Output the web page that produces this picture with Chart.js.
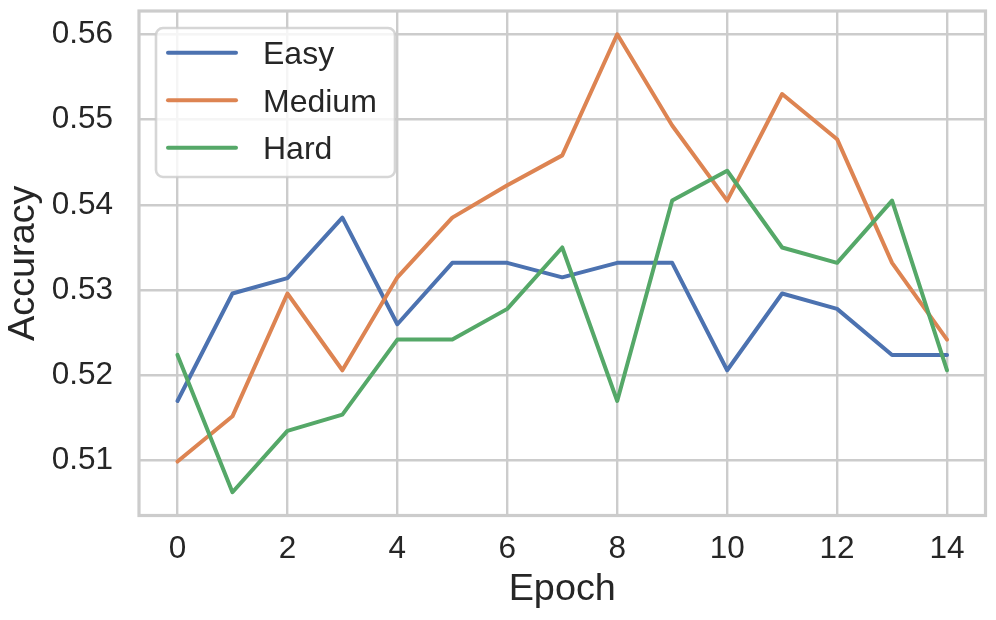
<!DOCTYPE html>
<html>
<head>
<meta charset="utf-8">
<script src="https://cdn.jsdelivr.net/npm/chart.js@4.4.1/dist/chart.umd.min.js"></script>
<style>
  html, body { margin: 0; padding: 0; background: #ffffff; }
  #wrap { width: 996px; height: 620px; position: relative; }
</style>
</head>
<body>
<div id="wrap"><canvas id="c" width="996" height="620"></canvas></div>
<script>
// ---- data ----
const epochs = [0, 1, 2, 3, 4, 5, 6, 7, 8, 9, 10, 11, 12, 13, 14];
const seriesNames = ["Easy", "Medium", "Hard"];
const easy   = [0.5170, 0.5296, 0.5314, 0.5385, 0.5260, 0.5332, 0.5332, 0.5315, 0.5332, 0.5332, 0.5206, 0.5296, 0.5278, 0.5224, 0.5224];
const medium = [0.5099, 0.5152, 0.5296, 0.5206, 0.5315, 0.5385, 0.5423, 0.5458, 0.5600, 0.5493, 0.5405, 0.5530, 0.5477, 0.5332, 0.5242];
const hard   = [0.5224, 0.5063, 0.5135, 0.5154, 0.5242, 0.5242, 0.5278, 0.5350, 0.5170, 0.5405, 0.5440, 0.5350, 0.5332, 0.5405, 0.5206];
const xTickValues = [0, 2, 4, 6, 8, 10, 12, 14];
const yTickValues = [0.51, 0.52, 0.53, 0.54, 0.55, 0.56];
const yTickLabels = ["0.51", "0.52", "0.53", "0.54", "0.55", "0.56"];
const xTitle = "Epoch";
const yTitle = "Accuracy";

// ---- style ----
const colors = ["#4c72b0", "#dd8452", "#55a868"];
const textColor = "#262626";
const gridColor = "#cccccc";
const fontFamily = "'Liberation Sans', Arial, Helvetica, sans-serif";

function toPoints(arr) { return epochs.map((e, i) => ({ x: e, y: arr[i] })); }
const seriesData = [easy, medium, hard];

const datasets = seriesNames.map((name, i) => ({
  label: name,
  data: toPoints(seriesData[i]),
  borderColor: colors[i],
  backgroundColor: colors[i],
  borderWidth: 4,
  borderCapStyle: "round",
  borderJoinStyle: "round",
  pointRadius: 0,
  pointHoverRadius: 0,
  tension: 0,
  fill: false,
  order: seriesNames.length - 1 - i
}));

const framePlugin = {
  id: "frame",
  beforeDatasetsDraw(chart) {
    const { ctx, chartArea: a } = chart;
    ctx.save();
    ctx.strokeStyle = gridColor;
    ctx.lineWidth = 3.2;
    ctx.strokeRect(a.left, a.top, a.right - a.left, a.bottom - a.top);
    ctx.restore();
  }
};

const legendPlugin = {
  id: "customLegend",
  afterDraw(chart) {
    const ctx = chart.ctx;
    const bx = 156, by = 28, bw = 239, bh = 149, r = 7;
    ctx.save();
    ctx.beginPath();
    ctx.moveTo(bx + r, by);
    ctx.arcTo(bx + bw, by, bx + bw, by + bh, r);
    ctx.arcTo(bx + bw, by + bh, bx, by + bh, r);
    ctx.arcTo(bx, by + bh, bx, by, r);
    ctx.arcTo(bx, by, bx + bw, by, r);
    ctx.closePath();
    ctx.fillStyle = "rgba(255,255,255,0.8)";
    ctx.fill();
    ctx.strokeStyle = "rgba(204,204,204,0.8)";
    ctx.lineWidth = 2.6;
    ctx.stroke();
    const rows = [52.7, 100.2, 147.7];
    const fs = 32;
    ctx.font = fs + "px " + fontFamily;
    ctx.textBaseline = "alphabetic";
    ctx.textAlign = "left";
    chart.data.datasets.forEach((ds, i) => {
      const y = rows[i];
      ctx.beginPath();
      ctx.moveTo(168, y);
      ctx.lineTo(236, y);
      ctx.strokeStyle = ds.borderColor;
      ctx.lineWidth = 4;
      ctx.lineCap = "round";
      ctx.stroke();
      ctx.fillStyle = textColor;
      ctx.fillText(ds.label, 263, y + 0.358 * fs);
    });
    ctx.restore();
  }
};

new Chart(document.getElementById("c"), {
  type: "line",
  data: { datasets },
  options: {
    responsive: false,
    animation: false,
    devicePixelRatio: 1,
    layout: { padding: { top: 11, right: 10.5, left: 0, bottom: 0 } },
    plugins: {
      legend: { display: false },
      tooltip: { enabled: false }
    },
    scales: {
      x: {
        type: "linear",
        min: -0.7,
        max: 14.7,
        afterBuildTicks(scale) { scale.ticks = xTickValues.map(v => ({ value: v })); },
        afterFit(scale) { scale.height = 104.5; scale.paddingLeft = 0; scale.paddingRight = 0; },
        ticks: {
          color: textColor,
          font: { family: fontFamily, size: 31.5 },
          padding: 15,
          maxRotation: 0,
          autoSkip: false,
          callback: (v) => String(v)
        },
        grid: { color: gridColor, lineWidth: 2.4, drawTicks: false },
        border: { display: false },
        title: {
          display: true,
          text: xTitle,
          color: textColor,
          font: { family: fontFamily, size: 37.8 },
          padding: { top: 0, bottom: 8 }
        }
      },
      y: {
        type: "linear",
        min: 0.50357,
        max: 0.56273,
        afterBuildTicks(scale) { scale.ticks = yTickValues.map(v => ({ value: v })); },
        afterFit(scale) { scale.width = 139; scale.paddingTop = 0; scale.paddingBottom = 0; },
        ticks: {
          color: textColor,
          font: { family: fontFamily, size: 31.5 },
          padding: 26,
          autoSkip: false,
          callback: (v) => { const k = yTickValues.findIndex(t => Math.abs(t - v) < 1e-9); return k >= 0 ? yTickLabels[k] : ""; }
        },
        grid: { color: gridColor, lineWidth: 2.4, drawTicks: false },
        border: { display: false },
        title: {
          display: true,
          text: yTitle,
          color: textColor,
          font: { family: fontFamily, size: 37.8 },
          padding: { top: 1, bottom: 0 }
        }
      }
    }
  },
  plugins: [framePlugin, legendPlugin]
});
</script>
</body>
</html>
